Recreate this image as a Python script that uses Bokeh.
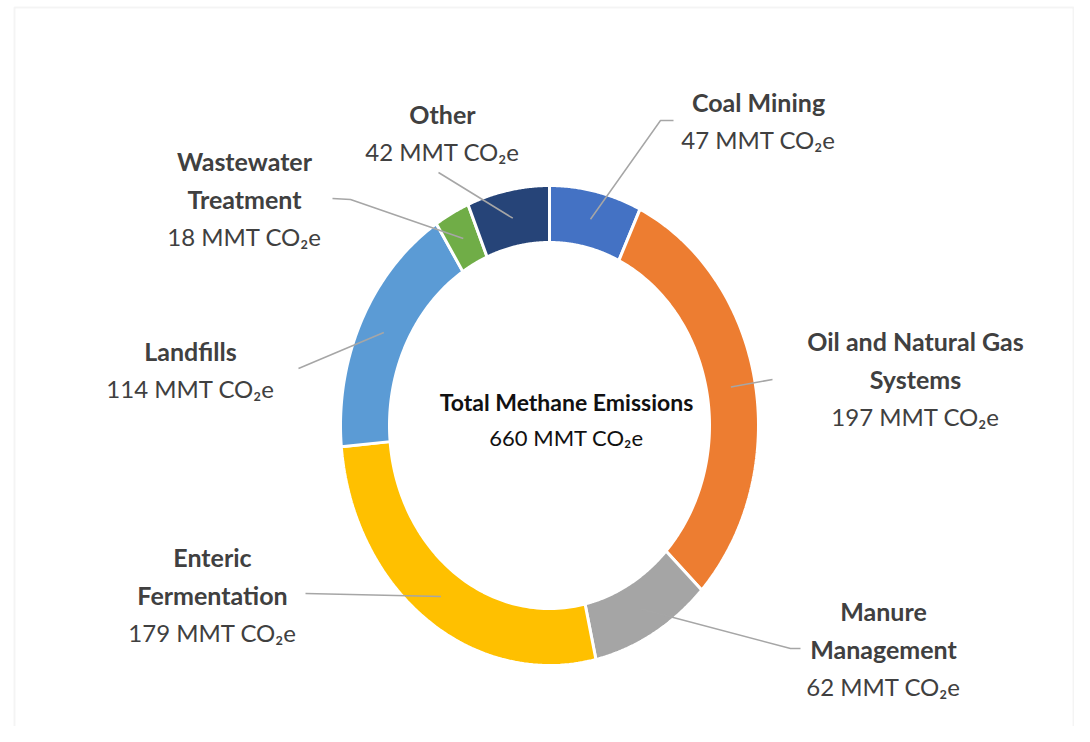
import numpy as np
from bokeh.plotting import figure
from bokeh.models import Range1d, BoxAnnotation
from bokeh.core.properties import value
from bokeh.embed import file_html
from bokeh.resources import INLINE

# ---- data ----
categories = ["Coal Mining", "Oil and Natural Gas Systems", "Manure Management",
              "Enteric Fermentation", "Landfills", "Wastewater Treatment", "Other"]
values = [47, 197, 62, 179, 114, 18, 42]
total_label = 660
colors = ["#4472C4", "#ED7D31", "#A5A5A5", "#FFC000", "#5B9BD5", "#70AD47", "#264478"]
name_lines = [["Coal Mining"], ["Oil and Natural Gas", "Systems"], ["Manure", "Management"],
              ["Enteric", "Fermentation"], ["Landfills"], ["Wastewater", "Treatment"], ["Other"]]

# ---- layout ----
W, H = 1074, 726
CX, CY = 549, 425
RX_OUT, RY_OUT = 209, 240
RX_IN, RY_IN = 160, 183
# label block: center x, y of first line
label_pos = [(758, 101), (915, 340), (883, 610), (212, 556), (190, 350), (244, 160), (442, 113)]
# leader line start points (label side), possibly with an elbow
leader_start = [[(673, 120), (660, 120)], [(772, 379)], [(800, 648), (790, 648)],
                [(305, 593)], [(298, 368)], [(332, 198), (350, 199)], [(438, 172)]]
LINE_H = 38
FONT = "Lato"
TXT = "#404040"

p = figure(width=W, height=H, output_backend="svg", toolbar_location=None,
           x_range=Range1d(0, W), y_range=Range1d(H, 0),
           min_border=0)
p.axis.visible = False
p.grid.visible = False
p.outline_line_color = None
p.background_fill_color = "white"

# donut slices as elliptical annular sectors computed from values
vals = np.array(values, dtype=float)
cum = np.concatenate([[0], np.cumsum(vals)]) / vals.sum()
xs, ys = [], []
mids = []
for i in range(len(vals)):
    a0 = np.pi / 2 - 2 * np.pi * cum[i]
    a1 = np.pi / 2 - 2 * np.pi * cum[i + 1]
    t = np.linspace(a0, a1, 80)
    ox = CX + RX_OUT * np.cos(t)
    oy = CY - RY_OUT * np.sin(t)
    ix = CX + RX_IN * np.cos(t[::-1])
    iy = CY - RY_IN * np.sin(t[::-1])
    xs.append(list(np.concatenate([ox, ix])))
    ys.append(list(np.concatenate([oy, iy])))
    am = (a0 + a1) / 2
    mids.append((CX + (RX_OUT + RX_IN) / 2 * np.cos(am), CY - (RY_OUT + RY_IN) / 2 * np.sin(am)))

p.patches(xs=xs, ys=ys, fill_color=colors, line_color="white", line_width=3)

# leader lines
lx, ly = [], []
for i in range(len(vals)):
    pts = leader_start[i] + [mids[i]]
    lx.append([q[0] for q in pts])
    ly.append([q[1] for q in pts])
p.multi_line(xs=lx, ys=ly, line_color="#A6A6A6", line_width=1.5)

# labels
bx, by, bt = [], [], []
nx, ny, nt = [], [], []
for i in range(len(vals)):
    x0, y0 = label_pos[i]
    for j, ln in enumerate(name_lines[i]):
        bx.append(x0); by.append(y0 + j * LINE_H); bt.append(ln)
    nx.append(x0); ny.append(y0 + len(name_lines[i]) * LINE_H)
    nt.append(f"{values[i]} MMT CO\u2082e")

p.text(x=bx, y=by, text=bt, text_font=value(FONT), text_font_size="25px",
       text_font_style="bold", text_color=TXT, text_align="center", text_baseline="middle")
p.text(x=nx, y=ny, text=nt, text_font=value(FONT), text_font_size="24px",
       text_color=TXT, text_align="center", text_baseline="middle")

p.text(x=[566], y=[401], text=["Total Methane Emissions"], text_font=value(FONT),
       text_font_size="23px", text_font_style="bold", text_color="#111111",
       text_align="center", text_baseline="middle")
p.text(x=[566], y=[437], text=[f"{total_label} MMT CO\u2082e"], text_font=value(FONT),
       text_font_size="22px", text_color="#111111",
       text_align="center", text_baseline="middle")

# chart frame
p.add_layout(BoxAnnotation(left=14, right=1073, top=7, bottom=800, fill_color=None,
                           line_color="#D9D9D9", line_width=2))

open("out.html", "w").write(file_html(p, INLINE))
